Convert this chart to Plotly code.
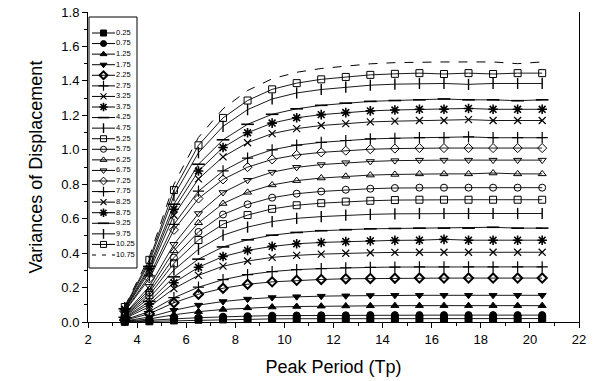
import plotly.graph_objects as go

# ---------------- data ----------------
tp = [3.5, 4.5, 5.5, 6.5, 7.5, 8.5, 9.5, 10.5, 11.5, 12.5,
      13.5, 14.5, 15.5, 16.5, 17.5, 18.5, 19.5, 20.5]

hs_labels = ["0.25", "0.75", "1.25", "1.75", "2.25", "2.75", "3.25", "3.75",
             "4.25", "4.75", "5.25", "5.75", "6.25", "6.75", "7.25", "7.75",
             "8.25", "8.75", "9.25", "9.75", "10.25", "10.75"]

v_0_25 = [0.001, 0.004, 0.009, 0.013, 0.015, 0.017, 0.018, 0.019, 0.019, 0.02,
          0.02, 0.02, 0.02, 0.02, 0.02, 0.02, 0.02, 0.02]
v_0_75 = [0.002, 0.008, 0.018, 0.025, 0.031, 0.034, 0.037, 0.038, 0.039, 0.039,
          0.04, 0.04, 0.04, 0.04, 0.04, 0.04, 0.04, 0.04]
v_1_25 = [0.004, 0.018, 0.042, 0.060, 0.073, 0.082, 0.087, 0.090, 0.092, 0.093,
          0.094, 0.095, 0.095, 0.095, 0.095, 0.095, 0.095, 0.095]
v_1_75 = [0.006, 0.029, 0.068, 0.098, 0.119, 0.133, 0.142, 0.147, 0.150, 0.152,
          0.154, 0.155, 0.155, 0.155, 0.155, 0.155, 0.155, 0.155]
v_2_25 = [0.010, 0.048, 0.112, 0.161, 0.196, 0.219, 0.233, 0.242, 0.247, 0.251,
          0.253, 0.254, 0.255, 0.255, 0.255, 0.255, 0.255, 0.255]
v_2_75 = [0.013, 0.061, 0.141, 0.202, 0.246, 0.275, 0.293, 0.304, 0.310, 0.315,
          0.317, 0.319, 0.32, 0.32, 0.32, 0.32, 0.32, 0.32]
v_3_25 = [0.020, 0.089, 0.194, 0.271, 0.324, 0.354, 0.375, 0.387, 0.394, 0.399,
          0.402, 0.404, 0.405, 0.405, 0.405, 0.405, 0.405, 0.405]
v_3_75 = [0.024, 0.105, 0.228, 0.318, 0.380, 0.416, 0.439, 0.454, 0.462, 0.467,
          0.471, 0.474, 0.475, 0.48, 0.475, 0.475, 0.475, 0.475]
v_4_25 = [0.027, 0.120, 0.262, 0.365, 0.436, 0.477, 0.504, 0.520, 0.530, 0.536,
          0.541, 0.543, 0.545, 0.545, 0.545, 0.55, 0.545, 0.545]
v_4_75 = [0.032, 0.139, 0.302, 0.422, 0.504, 0.551, 0.583, 0.602, 0.612, 0.620,
          0.625, 0.628, 0.63, 0.63, 0.63, 0.63, 0.63, 0.63]
v_5_25 = [0.036, 0.156, 0.341, 0.476, 0.568, 0.621, 0.657, 0.678, 0.690, 0.699,
          0.704, 0.708, 0.71, 0.71, 0.71, 0.71, 0.71, 0.71]
v_5_75 = [0.039, 0.172, 0.374, 0.523, 0.624, 0.683, 0.722, 0.745, 0.758, 0.768,
          0.774, 0.778, 0.78, 0.78, 0.78, 0.78, 0.78, 0.78]
v_6_25 = [0.043, 0.189, 0.413, 0.576, 0.688, 0.753, 0.796, 0.821, 0.836, 0.846,
          0.853, 0.857, 0.86, 0.86, 0.86, 0.865, 0.86, 0.86]
v_6_75 = [0.047, 0.207, 0.451, 0.630, 0.752, 0.823, 0.870, 0.898, 0.914, 0.925,
          0.932, 0.937, 0.94, 0.94, 0.94, 0.94, 0.94, 0.94]
v_7_25 = [0.061, 0.253, 0.535, 0.717, 0.828, 0.899, 0.944, 0.970, 0.985, 0.995,
          1.003, 1.007, 1.01, 1.01, 1.01, 1.01, 1.01, 1.01]
v_7_75 = [0.064, 0.268, 0.567, 0.760, 0.877, 0.952, 1.000, 1.027, 1.043, 1.054,
          1.063, 1.067, 1.07, 1.07, 1.075, 1.07, 1.07, 1.07]
v_8_25 = [0.070, 0.293, 0.620, 0.831, 0.959, 1.041, 1.094, 1.123, 1.141, 1.152,
          1.162, 1.166, 1.17, 1.17, 1.175, 1.17, 1.17, 1.17]
v_8_75 = [0.074, 0.309, 0.655, 0.877, 1.013, 1.099, 1.155, 1.186, 1.204, 1.216,
          1.226, 1.231, 1.235, 1.235, 1.24, 1.235, 1.235, 1.235]
v_9_25 = [0.077, 0.323, 0.684, 0.916, 1.058, 1.148, 1.206, 1.238, 1.258, 1.271,
          1.281, 1.286, 1.29, 1.295, 1.29, 1.29, 1.285, 1.29]
v_9_75 = [0.083, 0.346, 0.734, 0.983, 1.136, 1.233, 1.295, 1.330, 1.350, 1.364,
          1.375, 1.381, 1.385, 1.385, 1.38, 1.385, 1.385, 1.385]
v_10_25 = [0.087, 0.361, 0.766, 1.026, 1.185, 1.286, 1.351, 1.387, 1.409, 1.423,
           1.435, 1.441, 1.445, 1.44, 1.445, 1.44, 1.445, 1.445]
v_10_75 = [0.091, 0.378, 0.800, 1.072, 1.238, 1.344, 1.412, 1.450, 1.472, 1.487,
           1.499, 1.506, 1.51, 1.51, 1.51, 1.51, 1.50, 1.51]

series = [v_0_25, v_0_75, v_1_25, v_1_75, v_2_25, v_2_75, v_3_25, v_3_75,
          v_4_25, v_4_75, v_5_25, v_5_75, v_6_25, v_6_75, v_7_25, v_7_75,
          v_8_25, v_8_75, v_9_25, v_9_75, v_10_25, v_10_75]

x_ticks = [2, 4, 6, 8, 10, 12, 14, 16, 18, 20, 22]
y_ticks = [0.0, 0.2, 0.4, 0.6, 0.8, 1.0, 1.2, 1.4, 1.6, 1.8]

# ---------------- styles ----------------
symbols = ["square", "circle", "triangle-up", "triangle-down", "diamond-open",
           "cross-thin-open", "x-thin-open", "asterisk-open", "line-ew-open",
           "line-ns-open", "square-open", "circle-open", "triangle-up-open",
           "triangle-down-open", "diamond-open", "cross-thin-open", "x-thin-open",
           "asterisk-open", "line-ew-open", "line-ns-open", "square-open", None]
msizes = [7, 7, 7, 7, 7, 8, 7, 8, 9, 8, 7, 7, 7, 7, 7, 8, 7, 8, 9, 8, 7, 0]
mlw = [1, 1, 1, 1, 2, 1.2, 1.2, 1.6, 1.6, 1.4, 1, 1, 1, 1, 1, 1.2, 1.2, 1.6, 1.6, 1.4, 1, 1]

FONT = "Liberation Sans, Arial, sans-serif"
fig = go.Figure()

for lab, ys, sym, ms, lw in zip(hs_labels, series, symbols, msizes, mlw):
    if sym is None:
        fig.add_trace(go.Scatter(x=tp, y=ys, mode="lines", name=lab,
                                 line=dict(color="black", width=1, dash="dash"),
                                 showlegend=False, cliponaxis=False))
    else:
        fig.add_trace(go.Scatter(x=tp, y=ys, mode="lines+markers", name=lab,
                                 line=dict(color="black", width=0.9),
                                 marker=dict(symbol=sym, size=ms, color="black",
                                             line=dict(color="black", width=lw)),
                                 showlegend=False, cliponaxis=False))

# ---------------- hand-made legend (single column box) ----------------
W, H = 593, 381
ml, mr, mt, mb = 88, 14, 12, 59
pw, ph = W - ml - mr, H - mt - mb
box_l, box_r, box_t, box_b = 89, 137, 17, 268   # pixels
lx0 = (box_l - ml) / pw
lx1 = (box_r - ml) / pw
ly1 = (H - mb - box_t) / ph
ly0 = (H - mb - box_b) / ph

n = len(hs_labels)
row_top, row_bot = 33, 255
for i, (lab, sym, ms, lw) in enumerate(zip(hs_labels, symbols, msizes, mlw)):
    yy = row_top + i * (row_bot - row_top) / (n - 1)
    if sym is None:
        fig.add_trace(go.Scatter(x=[3, 26], y=[yy, yy], mode="lines",
                                 line=dict(color="black", width=1, dash="4px,6px"),
                                 xaxis="x2", yaxis="y2", showlegend=False,
                                 hoverinfo="skip"))
    else:
        fig.add_trace(go.Scatter(x=[3, 26], y=[yy, yy], mode="lines",
                                 line=dict(color="black", width=1),
                                 xaxis="x2", yaxis="y2", showlegend=False,
                                 hoverinfo="skip"))
        fig.add_trace(go.Scatter(x=[14.5], y=[yy], mode="markers",
                                 marker=dict(symbol=sym, size=max(ms - 1, 5), color="black",
                                             line=dict(color="black", width=lw)),
                                 xaxis="x2", yaxis="y2", showlegend=False,
                                 hoverinfo="skip"))
    fig.add_trace(go.Scatter(x=[27], y=[yy], mode="text", text=[lab],
                             textposition="middle right",
                             textfont=dict(size=7.5, color="black", family=FONT),
                             xaxis="x2", yaxis="y2", showlegend=False,
                             hoverinfo="skip", cliponaxis=False))

fig.add_shape(type="rect", xref="paper", yref="paper",
              x0=lx0, x1=lx1, y0=ly0, y1=ly1,
              line=dict(color="black", width=1), fillcolor="rgba(0,0,0,0)",
              layer="above")

fig.update_layout(
    width=W, height=H,
    margin=dict(l=ml, r=mr, t=mt, b=mb, pad=0, autoexpand=False),
    paper_bgcolor="white", plot_bgcolor="white",
    font=dict(family=FONT, color="black"),
    showlegend=False,
    xaxis=dict(range=[2, 22], tickvals=x_ticks, ticktext=[str(v) for v in x_ticks],
               showline=True, linecolor="black", linewidth=1, automargin=False,
               ticks="outside", ticklen=5, tickcolor="black", tickwidth=1,
               minor=dict(ticks="outside", ticklen=3, dtick=1, tick0=2,
                          tickcolor="black"),
               showgrid=False, zeroline=False, mirror=False,
               tickfont=dict(size=13, family=FONT),
               title=dict(text="Peak Period (Tp)", font=dict(size=18, family=FONT),
                          standoff=14)),
    yaxis=dict(range=[0, 1.8], tickvals=y_ticks,
               ticktext=["%.1f" % v for v in y_ticks],
               showline=True, linecolor="black", linewidth=1, mirror=True,
               automargin=False,
               ticks="outside", ticklen=5, tickcolor="black", tickwidth=1,
               minor=dict(ticks="outside", ticklen=3, dtick=0.1, tick0=0,
                          tickcolor="black"),
               showgrid=False, zeroline=False,
               tickfont=dict(size=13, family=FONT),
               title=dict(text="Variances of Displacement",
                          font=dict(size=18, family=FONT), standoff=14)),
    xaxis2=dict(domain=[lx0, lx1], range=[0, box_r - box_l], visible=False,
                anchor="y2", fixedrange=True),
    yaxis2=dict(domain=[ly0, ly1], range=[box_b, box_t], visible=False,
                anchor="x2", fixedrange=True),
)

fig.write_html("out.html")
